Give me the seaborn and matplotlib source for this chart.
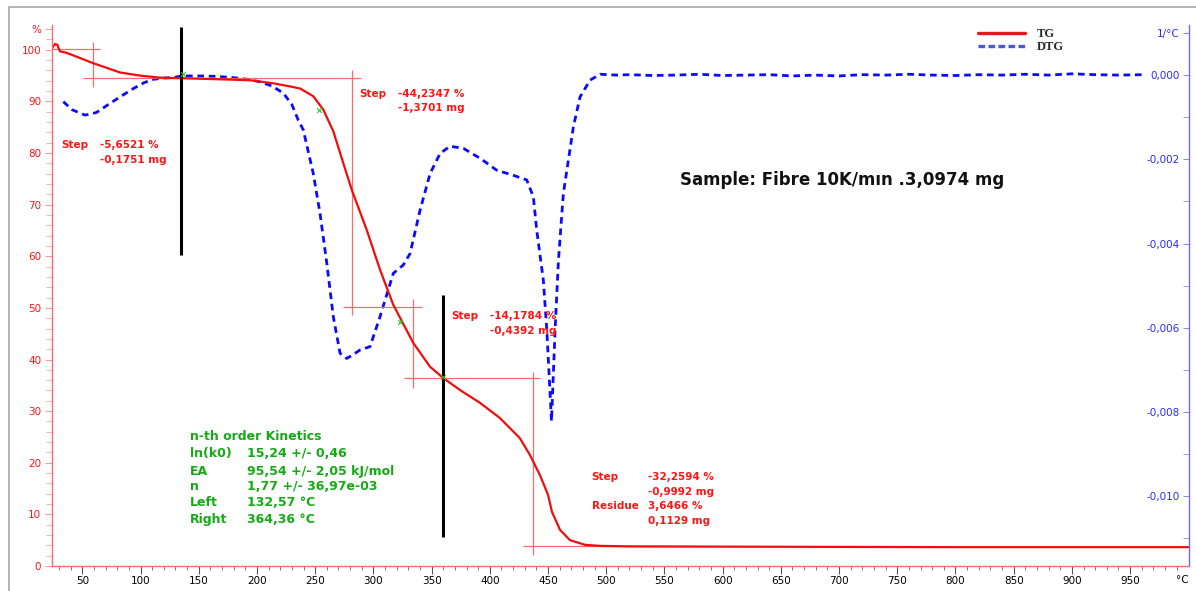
import matplotlib
matplotlib.use("Agg")
import matplotlib.pyplot as plt
import seaborn as sns
from matplotlib.lines import Line2D
from matplotlib.patches import Rectangle

# ---------------- data ----------------
tg_temp = [24, 26.5, 28.5, 30.8, 36.6, 48, 59.4, 71, 82.4, 99.6, 116.7, 133.9,
           165.5, 194.2, 214.1, 228.4, 237, 248.4, 257, 265.6, 274.2, 281.4,
           294.3, 305.7, 317.1, 334.3, 348.7, 360.1, 375, 391.6, 408.5, 425.7,
           434.5, 443.1, 450, 453.4, 460.3, 468.9, 481.8, 494.7, 520, 600, 700,
           800, 900, 1000]
tg_mass = [100.3, 101.1, 101.0, 99.7, 99.4, 98.4, 97.4, 96.5, 95.6, 95.0, 94.6, 94.5,
           94.3, 94.1, 93.5, 92.9, 92.5, 91.0, 88.4, 84.2, 78.0, 72.9,
           65.1, 57.4, 50.6, 43.2, 38.6, 36.4, 34.0, 31.6, 28.7, 24.8,
           21.5, 17.6, 13.8, 10.5, 7.0, 5.0, 4.1, 3.9, 3.8, 3.75, 3.7,
           3.65, 3.65, 3.65]

dtg_temp = [33.7, 41, 52.3, 62, 73.9, 84, 93.8, 103, 111, 120, 128, 135.4, 151, 165,
            179.8, 192, 202.6, 213, 222.7, 230, 235.5, 239.8, 248.4, 254.2, 260,
            265.6, 271.4, 277.1, 282, 288.5, 297.1, 305.7, 317.1, 325.7, 331.5,
            340.1, 348.7, 357.3, 365.9, 377.3, 391.9, 406, 420.2, 431.7, 437.4,
            440.3, 446, 449, 453, 456.2, 459, 463.2, 467.5, 471.8, 477.5, 486.1,
            494.7, 509, 520, 540, 560, 580, 600, 620, 640, 660, 680, 700, 720, 740,
            760, 780, 800, 820, 840, 860, 880, 900, 920, 940, 962]
dtg_rate = [-0.00063, -0.00082, -0.00095, -0.00089, -0.00067, -0.00049, -0.00032,
            -0.00018, -0.00010, -0.00007, -0.00006, -0.00002, -0.00002, -0.00003,
            -0.00006, -0.00010, -0.00016, -0.00026, -0.00043, -0.00070, -0.00107,
            -0.00130, -0.00234, -0.00329, -0.00447, -0.00574, -0.00661, -0.00673,
            -0.00665, -0.00653, -0.00645, -0.00574, -0.00471, -0.00451, -0.00424,
            -0.00321, -0.00234, -0.00186, -0.00169, -0.00174, -0.00198, -0.00226,
            -0.00238, -0.00249, -0.00289, -0.00368, -0.00487, -0.00606, -0.00822,
            -0.00598, -0.00439, -0.00281, -0.00202, -0.00123, -0.00052, -0.00012,
            0.00002, 0.0, 0.00001, -0.00001, 0.0, 0.00002, -0.00001, 0.0, 0.00001,
            -0.00002, 0.0, -0.00002, 0.00001, 0.0, 0.00002, 0.0, -0.00001, 0.00001,
            0.0, 0.00002, 0.0, 0.00003, 0.00001, 0.0, 0.00001]

# step evaluation crosshairs (temperature, %)
step_hlines = [(100.1, 24.3, 65.2), (94.5, 50.9, 289.4), (50.1, 274.1, 341.6),
               (36.4, 326.3, 443.0), (3.9, 428.5, 585.6)]
step_vlines = [(58.9, 92.8, 101.6), (281.4, 48.6, 96.1), (334.3, 34.5, 51.7),
               (437.1, 2.1, 37.6)]
kinetic_limits = [(134.8, 60.3, 104.5), (360.1, 5.6, 52.5)]
kinetic_marks_t = [136.2, 253.6, 322.9, 360.1]
kinetic_marks_m = [95.3, 88.4, 47.3, 36.7]

x_major = list(range(50, 951, 50))
x_minor = list(range(30, 1000, 10))
pct_ticks = [0, 10, 20, 30, 40, 50, 60, 70, 80, 90, 100, 104]
pct_labels = ["0", "10", "20", "30", "40", "50", "60", "70", "80", "90", "100", "%"]
dtg_ticks = [-0.010, -0.008, -0.006, -0.004, -0.002, 0.0, 0.001]
dtg_labels = ["-0,010", "-0,008", "-0,006", "-0,004", "-0,002", "0,000", "1/°C"]
dtg_minor = [-0.011, -0.009, -0.007, -0.005, -0.003, -0.001]

RED = "#ff1414"
BLUE = "#0a0aff"
GREEN = "#14aa14"

sns.set_theme(style="white")
plt.rcParams["font.family"] = ["DejaVu Sans"]

fig = plt.figure(figsize=(11.96, 5.91), dpi=100)
ax = fig.add_axes([52.4 / 1196, 1 - 566 / 591, (1189 - 52.4) / 1196, (566 - 25) / 591])
ax2 = ax.twinx()
ax.set_zorder(2)
ax.patch.set_visible(False)

# gray outer frame
fig.patches.append(Rectangle((9.3 / 1196, -0.2), 1.0, 1.2 - 6.7 / 591, transform=fig.transFigure,
                             fill=False, edgecolor="#a8a8a8", lw=1.2))

# ---------------- curves ----------------
sns.lineplot(x=dtg_temp, y=dtg_rate, ax=ax2, color=BLUE, linewidth=2.0,
             linestyle=(0, (2.4, 1.7)), sort=False)
sns.lineplot(x=tg_temp, y=tg_mass, ax=ax, color="#f20d0d", linewidth=1.6, sort=False)

# crosshairs and evaluation limits
for y, x0, x1 in step_hlines:
    ax.hlines(y, x0, x1, color="#ff6a6a", lw=0.9, zorder=1)
for x, y0, y1 in step_vlines:
    ax.vlines(x, y0, y1, color="#ff6a6a", lw=0.9, zorder=1)
for x, y0, y1 in kinetic_limits:
    ax.vlines(x, y0, y1, color="black", lw=2.2, zorder=3)
ax.scatter(kinetic_marks_t, kinetic_marks_m, marker="x", s=12, color="#22cc22",
           linewidths=0.8, zorder=4)

# ---------------- axes styling ----------------
ax.set_xlim(24.3, 1000.6)
ax.set_ylim(0, 104.8)
ax2.set_ylim(-0.01166, 0.00119)

ax.set_xticks(x_major)
ax.set_xticks(x_minor, minor=True)
ax.set_xticklabels([str(v) for v in x_major])
ax.tick_params(axis="x", which="major", length=6, width=0.8, color="#555555",
               labelsize=7.5, labelcolor="black", pad=1.5, bottom=True)
ax.tick_params(axis="x", which="minor", length=3, width=0.7, color="#777777", bottom=True)
ax.text(995, -0.017, "°C", transform=ax.get_xaxis_transform(), ha="center", va="top",
        fontsize=7.5, color="black")

ax.set_yticks(pct_ticks)
ax.set_yticklabels(pct_labels)
ax.set_yticks(list(range(2, 104, 2)), minor=True)
ax.tick_params(axis="y", which="major", length=5, width=0.8, color="#ff9a9a",
               labelsize=7.5, labelcolor=RED, pad=3, left=True)
ax.tick_params(axis="y", which="minor", length=4, width=0.7, color="#ffb0b0", left=True)

ax2.set_yticks(dtg_ticks)
ax2.set_yticklabels(dtg_labels)
ax2.set_yticks(dtg_minor, minor=True)
ax2.tick_params(axis="y", which="major", direction="in", length=4, width=0.8,
                color="#8888ff", labelsize=7.5, labelcolor="#2a2aff", pad=-7, right=True)
ax2.tick_params(axis="y", which="minor", direction="in", length=4, width=0.7,
                color="#9999ff", right=True)
plt.setp(ax2.get_yticklabels(), ha="right")

for a in (ax, ax2):
    a.spines["top"].set_visible(False)
    a.set_xlabel("")
    a.set_ylabel("")
ax.spines["right"].set_visible(False)
ax2.spines["left"].set_visible(False)
ax2.spines["bottom"].set_visible(False)
ax.spines["left"].set_color("#ff6a6a")
ax.spines["bottom"].set_color("#ff6a6a")
ax2.spines["right"].set_color("#6a6aff")
for s in ("left", "bottom"):
    ax.spines[s].set_linewidth(1.0)
ax2.spines["right"].set_linewidth(1.0)

# ---------------- annotations ----------------
fs = 7.5
step_txt = [
    (31.9, 81.5, "Step"), (65.2, 81.5, "-5,6521 %"), (65.2, 78.6, "-0,1751 mg"),
    (287.7, 91.4, "Step"), (321.4, 91.4, "-44,2347 %"), (321.4, 88.7, "-1,3701 mg"),
    (366.7, 48.5, "Step"), (400.2, 48.5, "-14,1784 %"), (400.2, 45.6, "-0,4392 mg"),
    (487.5, 17.3, "Step"), (536.2, 17.3, "-32,2594 %"), (536.2, 14.4, "-0,9992 mg"),
    (487.5, 11.7, "Residue"), (536.2, 11.7, "3,6466 %"), (536.2, 8.8, "0,1129 mg"),
]
for x, y, s in step_txt:
    ax.text(x, y, s, color=RED, fontsize=fs, fontweight="bold", ha="left", va="center")

kin_rows = [("n-th order Kinetics", ""), ("ln(k0)", "15,24 +/- 0,46"),
            ("EA", "95,54 +/- 2,05 kJ/mol"), ("n", "1,77 +/- 36,97e-03"),
            ("Left", "132,57 °C"), ("Right", "364,36 °C")]
kin_y = [25.1, 21.8, 18.4, 15.4, 12.3, 9.1]
for (lab, val), y in zip(kin_rows, kin_y):
    ax.text(142.6, y, lab, color=GREEN, fontsize=9, fontweight="bold", va="center")
    if val:
        ax.text(191.2, y, val, color=GREEN, fontsize=9, fontweight="bold", va="center")

ax.text(703, 74.8, "Sample: Fibre 10K/mın .3,0974 mg", fontsize=12, fontweight="bold",
        color="#111111", ha="center", va="center")

handles = [Line2D([], [], color="#e8141e", lw=2.4),
           Line2D([], [], color="#4a5ad0", lw=2.4, linestyle=(0, (2.0, 1.0)))]
fig.legend(handles, ["TG", "DTG"], loc="upper left",
           bbox_to_anchor=(972 / 1196, 1 - 22 / 591), frameon=False, borderpad=0,
           handlelength=3.7, handletextpad=1.0, labelspacing=0.05,
           prop={"family": "Liberation Serif", "weight": "bold", "size": 9})

fig.savefig("out.png", dpi=100)
